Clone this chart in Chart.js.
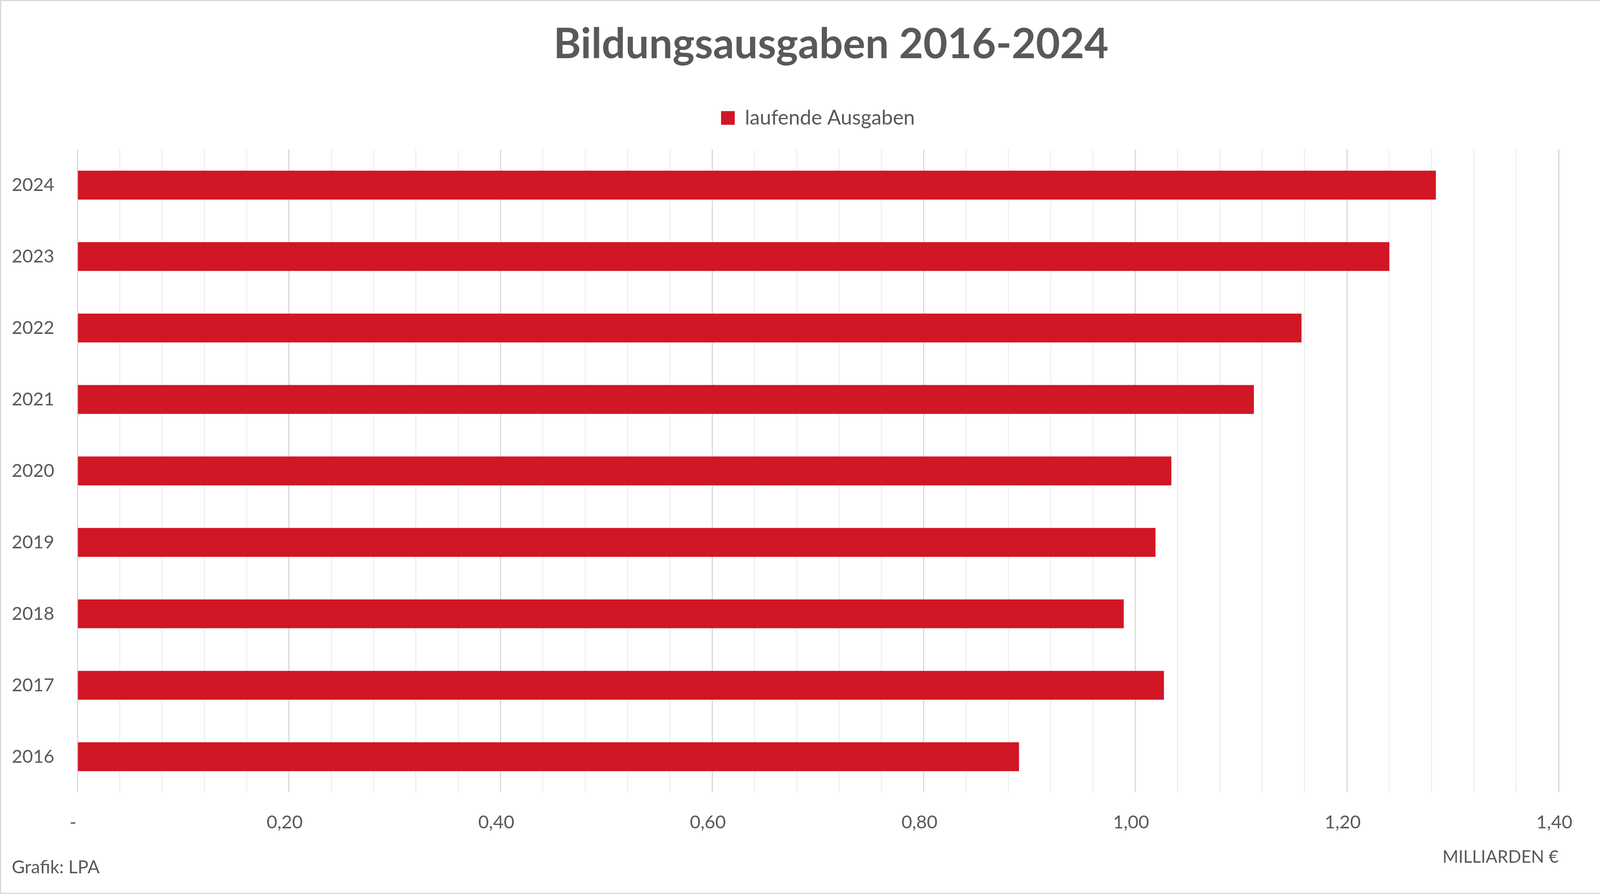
<!DOCTYPE html>
<html><head><meta charset="utf-8">
<script src="https://cdn.jsdelivr.net/npm/chart.js@4"></script>
<style>
html,body{margin:0;padding:0;background:#fff;}
#c{display:block;outline:3px solid #d9d9d9;outline-offset:-3px;}
</style></head><body>
<canvas id="c" width="4255" height="2289"></canvas>
<script>
const years = ['2016','2017','2018','2019','2020','2021','2022','2023','2024'];
const laufendeAusgaben = [0.890, 1.027, 0.989, 1.019, 1.034, 1.112, 1.157, 1.240, 1.284];
const seriesName = 'laufende Ausgaben';
const chartTitle = 'Bildungsausgaben 2016-2024';
const axisUnit = 'MILLIARDEN €';
const sourceNote = 'Grafik: LPA';
const xMin = 0, xMax = 1.4, minorStep = 0.04, majorStep = 0.2;

const TXT = '#595959';
const isMajor = v => Math.abs(v / majorStep - Math.round(v / majorStep)) < 1e-6;
const fmt = v => Math.abs(v) < 1e-9 ? '-' : v.toFixed(2).replace('.', ',');

Chart.defaults.font.family = 'Lato';

new Chart(document.getElementById('c'), {
  type: 'bar',
  data: {
    labels: years,
    datasets: [{
      label: seriesName, data: laufendeAusgaben, xAxisID: 'x', yAxisID: 'y',
      backgroundColor: '#D11625', borderWidth: 0,
      barPercentage: 0.404, categoryPercentage: 1
    }]
  },
  options: {
    indexAxis: 'y',
    responsive: false,
    devicePixelRatio: 1,
    animation: false,
    layout: { padding: { top: 0, left: 30, right: 30, bottom: 20 } },
    scales: {
      x: {
        type: 'linear', position: 'bottom', min: xMin, max: xMax,
        grid: { color: c => (c.tick && isMajor(c.tick.value)) ? '#d9d9d9' : '#f0f0f0', lineWidth: 3, drawTicks: false },
        border: { display: false },
        ticks: { stepSize: minorStep, autoSkip: false, maxRotation: 0, padding: 48.8, labelOffset: -11,
          color: TXT, font: { size: 47 }, callback: v => isMajor(v) ? fmt(v) : '' },
        title: { display: true, text: axisUnit, align: 'end', color: TXT, font: { size: 44 },
          padding: { top: -14.4, bottom: 0 } }
      },
      x2: { type: 'linear', position: 'top', display: true, grid: { display: false }, ticks: { display: false },
        border: { display: false }, afterFit: s => { s.height = 44.5; } },
      y: {
        type: 'category', reverse: true, grid: { display: false }, border: { display: false },
        ticks: { color: TXT, font: { size: 47 }, padding: 51 },
        afterFit: s => { s.width = 168; }
      },
      y2: { type: 'linear', position: 'right', display: true, grid: { display: false }, ticks: { display: false },
        border: { display: false }, afterFit: s => { s.width = 235; } }
    },
    plugins: {
      legend: { position: 'top', fullSize: false,
        labels: { boxWidth: 35, boxHeight: 35, padding: 87.6, color: TXT, font: { size: 52 } } },
      title: { display: true, text: chartTitle, color: TXT, font: { size: 107, weight: 'bold' },
        padding: { top: 50, bottom: 10 } },
      subtitle: { display: true, text: sourceNote, position: 'bottom', align: 'start', color: TXT,
        font: { size: 46 }, padding: { top: -28, bottom: 20.4 } },
      tooltip: { enabled: false }
    }
  }
});
</script>
</body></html>
